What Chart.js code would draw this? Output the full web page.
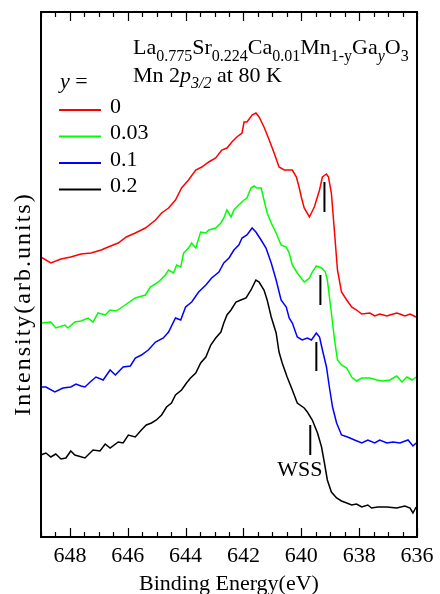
<!DOCTYPE html>
<html>
<head>
<meta charset="utf-8">
<script src="https://cdn.jsdelivr.net/npm/chart.js@4/dist/chart.umd.min.js"></script>
<style>
  body { margin: 0; background: #fff; }
  canvas { display: block; }
</style>
</head>
<body>
<canvas id="xpsChart" width="440" height="594"></canvas>
<script>
// Mn 2p3/2 spectra, binding energy (eV) vs intensity (arb. units, curves already offset)
const energyY0 = [649.01,648.66,648.31,647.97,647.62,647.27,646.92,646.68,646.33,646.05,645.74,645.39,645.04,644.83,644.59,644.35,644.14,643.90,643.65,643.44,643.20,642.96,642.75,642.57,642.40,642.23,642.05,641.98,641.88,641.70,641.57,641.46,641.29,641.11,640.94,640.77,640.59,640.42,640.31,640.17,640.07,640.00,639.90,639.72,639.55,639.37,639.27,639.13,639.06,638.96,638.85,638.75,638.61,638.43,638.26,638.09,637.91,637.63,637.46,637.29,637.04,636.94,636.70,636.59,636.42,636.24,636.03];
const intensityY0 = [280,274,278,280,283,284,287,290,294,300,304,309,317,324,329,337,349,357,367,370,375,379,387,389,395,400,404,415,415,422,424,420,410,397,384,370,367,367,367,360,349,340,329,320,330,347,360,363,360,344,304,267,245,237,230,227,223,224,221,223,221,222,224,223,221,223,220];

const energyY003 = [649.01,648.66,648.49,648.17,648.07,647.83,647.62,647.37,647.20,647.03,646.78,646.61,646.40,646.09,645.74,645.39,645.22,644.94,644.70,644.59,644.42,644.31,644.17,644.07,643.90,643.79,643.65,643.48,643.30,643.20,642.96,642.78,642.68,642.57,642.43,642.33,642.16,641.98,641.88,641.74,641.63,641.53,641.39,641.29,641.18,641.04,640.87,640.70,640.52,640.42,640.31,640.14,639.90,639.72,639.62,639.48,639.30,639.17,639.10,638.96,638.85,638.75,638.61,638.43,638.26,638.09,637.91,637.63,637.39,637.18,636.94,636.70,636.52,636.35,636.17,636.03];
const intensityY003 = [214,215,209,212,209,215,216,219,215,224,222,227,226,232,239,242,250,255,262,267,264,272,270,284,289,294,289,305,304,307,309,314,319,327,320,327,332,337,339,349,351,349,349,337,324,314,304,292,290,284,272,264,255,259,265,271,269,265,257,224,197,177,172,169,160,156,159,159,157,156,157,161,155,160,157,160];

const energyY01 = [649.01,648.83,648.52,648.24,647.97,647.79,647.62,647.48,647.30,647.10,646.85,646.61,646.43,646.16,645.91,645.74,645.53,645.29,645.04,644.77,644.59,644.35,644.17,644.00,643.79,643.55,643.30,643.10,642.85,642.68,642.50,642.33,642.16,642.05,641.88,641.70,641.57,641.39,641.22,641.04,640.87,640.70,640.52,640.42,640.31,640.14,639.97,639.79,639.65,639.48,639.37,639.27,639.13,639.03,638.92,638.78,638.61,638.40,638.16,637.91,637.70,637.46,637.29,637.04,636.83,636.59,636.31,636.14,636.03];
const intensityY01 = [150,150,145,149,150,153,151,150,155,160,157,167,162,170,171,179,182,187,195,199,205,219,217,230,235,245,252,259,265,274,279,287,292,299,302,309,305,297,289,274,257,237,230,219,214,200,197,199,197,204,200,187,170,150,130,114,102,100,97,94,97,94,97,94,95,94,97,91,94];

const energyY02 = [649.01,648.83,648.66,648.49,648.31,648.14,647.97,647.83,647.48,647.20,646.96,646.78,646.61,646.33,646.16,645.98,645.74,645.53,645.36,645.18,645.01,644.83,644.66,644.49,644.35,644.14,643.97,643.83,643.65,643.48,643.30,643.13,642.96,642.78,642.68,642.57,642.43,642.26,642.09,641.91,641.74,641.57,641.46,641.29,641.18,641.04,640.87,640.77,640.66,640.49,640.31,640.14,639.90,639.79,639.62,639.44,639.30,639.20,639.10,638.96,638.78,638.61,638.43,638.26,638.09,637.91,637.70,637.57,637.36,637.04,636.70,636.42,636.24,636.14,636.03];
const intensityY02 = [82,84,80,83,78,79,86,82,79,87,86,93,89,95,94,102,100,107,112,114,117,122,130,134,142,147,154,159,164,174,180,192,199,205,214,222,227,235,237,239,247,257,255,247,237,220,204,185,174,160,147,134,129,125,117,104,90,74,57,45,39,36,34,32,33,30,32,29,30,30,29,31,29,24,30];

const seriesLabels = ['0', '0.03', '0.1', '0.2'];
const seriesColors = ['#ff0000', '#00ff00', '#0000ff', '#000000'];

// vertical marks (the last one is WSS)
const markEnergy = [639.20, 639.34, 639.48, 639.69];
const markLow = [325, 232, 166, 82];
const markHigh = [355, 262, 195, 112];

const xTickLabels = [648, 646, 644, 642, 640, 638, 636];

const serif = '"Liberation Serif", "Times New Roman", serif';

function pts(xs, ys) {
    return xs.map((x, i) => ({ x: x, y: ys[i] }));
}

const spectra = [
    pts(energyY0, intensityY0),
    pts(energyY003, intensityY003),
    pts(energyY01, intensityY01),
    pts(energyY02, intensityY02)
];

const datasets = spectra.map((d, i) => ({
    label: seriesLabels[i],
    data: d,
    borderColor: seriesColors[i],
    borderWidth: 1.5,
    pointRadius: 0,
    tension: 0,
    fill: false,
    inLegend: true
}));

markEnergy.forEach((e, i) => {
    datasets.push({
        label: 'mark' + i,
        data: [{ x: e, y: markLow[i] }, { x: e, y: markHigh[i] }],
        borderColor: '#000',
        borderWidth: 2,
        pointRadius: 0,
        inLegend: false
    });
});

// sub/superscript text runs
function drawRuns(ctx, x, y, runs) {
    runs.forEach(r => {
        const size = r.sub ? 16 : 22;
        ctx.font = (r.it ? 'italic ' : '') + size + 'px ' + serif;
        ctx.fillText(r.t, x, y + (r.sub ? 6.5 : 0));
        x += ctx.measureText(r.t).width;
    });
}

const decor = {
    id: 'decor',
    afterDraw(chart) {
        const ctx = chart.ctx;
        const a = chart.chartArea;
        const xs = chart.scales.x;
        const ys = chart.scales.y;
        ctx.save();
        ctx.strokeStyle = '#000';
        ctx.fillStyle = '#000';
        ctx.lineWidth = 2;
        ctx.strokeRect(a.left, a.top, a.right - a.left, a.bottom - a.top);

        // inward ticks on top and bottom edges
        ctx.lineWidth = 1.2;
        for (let e = 636; e <= 649; e += 0.5) {
            const px = Math.round(xs.getPixelForValue(e)) + 0.5;
            const len = (e % 2 === 0) ? 9 : 5;
            ctx.beginPath();
            ctx.moveTo(px, a.bottom);
            ctx.lineTo(px, a.bottom - len);
            ctx.moveTo(px, a.top);
            ctx.lineTo(px, a.top + len);
            ctx.stroke();
        }

        ctx.textBaseline = 'alphabetic';
        ctx.textAlign = 'left';
        drawRuns(ctx, 133, 54, [
            { t: 'La' }, { t: '0.775', sub: true },
            { t: 'Sr' }, { t: '0.224', sub: true },
            { t: 'Ca' }, { t: '0.01', sub: true },
            { t: 'Mn' }, { t: '1-y', sub: true },
            { t: 'Ga' }, { t: 'y', sub: true, it: true },
            { t: 'O' }, { t: '3', sub: true }
        ]);
        drawRuns(ctx, 133, 81.5, [
            { t: 'Mn 2' }, { t: 'p', it: true }, { t: '3/2', sub: true, it: true },
            { t: ' at 80 K' }
        ]);

        // legend
        drawRuns(ctx, 60, 88, [{ t: 'y', it: true }, { t: ' =' }]);
        let row = 0;
        chart.data.datasets.forEach(ds => {
            if (!ds.inLegend) return;
            const ly = 110 + row * 26.5;
            ctx.strokeStyle = ds.borderColor;
            ctx.lineWidth = 2;
            ctx.beginPath();
            ctx.moveTo(59, ly);
            ctx.lineTo(101, ly);
            ctx.stroke();
            ctx.font = '22px ' + serif;
            ctx.fillText(ds.label, 110, ly + 2.5);
            row++;
        });

        // WSS label
        ctx.textAlign = 'center';
        ctx.textBaseline = 'middle';
        ctx.font = '22px ' + serif;
        ctx.fillText('WSS', xs.getPixelForValue(640.05), ys.getPixelForValue(67));

        // y axis title, a bit longer than a plain axis title
        ctx.translate(24, 304);
        ctx.rotate(-Math.PI / 2);
        ctx.font = '24px ' + serif;
        ctx.letterSpacing = '2px';
        ctx.fillText('Intensity(arb.units)', 0, 0);
        ctx.restore();
    }
};

new Chart(document.getElementById('xpsChart'), {
    type: 'line',
    data: { datasets: datasets },
    options: {
        responsive: false,
        animation: false,
        devicePixelRatio: 1,
        layout: { padding: { top: 12, right: 23, left: 0, bottom: 0 } },
        plugins: { legend: { display: false }, tooltip: { enabled: false } },
        scales: {
            x: {
                type: 'linear',
                reverse: true,
                min: 636,
                max: 649,
                grid: { display: false, drawTicks: false },
                border: { display: false },
                afterBuildTicks: s => { s.ticks = xTickLabels.map(v => ({ value: v })); },
                afterFit: s => { s.height = 57; },
                ticks: {
                    autoSkip: false,
                    maxRotation: 0,
                    padding: 6,
                    color: '#000',
                    font: { family: serif, size: 22 }
                },
                title: {
                    display: true,
                    text: 'Binding Energy(eV)',
                    color: '#000',
                    font: { family: serif, size: 22 },
                    padding: { top: 0, bottom: -3 }
                }
            },
            y: {
                min: 0,
                max: 525,
                grid: { display: false, drawTicks: false },
                border: { display: false },
                ticks: { display: false },
                afterFit: s => { s.width = 41; }
            }
        }
    },
    plugins: [decor]
});
</script>
</body>
</html>
